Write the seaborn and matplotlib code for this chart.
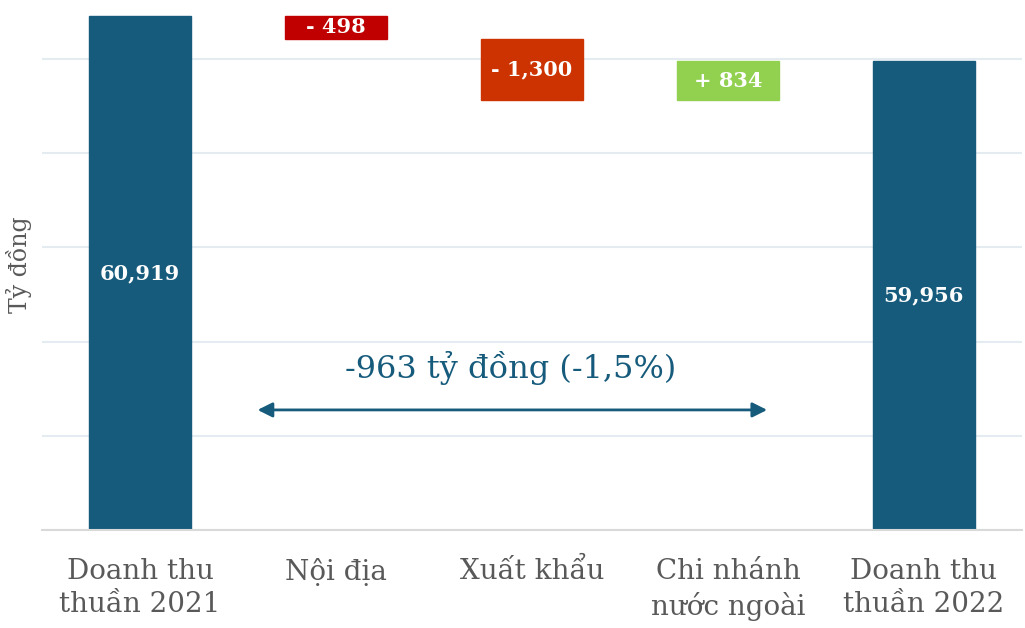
import numpy as np
import pandas as pd
import seaborn as sns
import matplotlib.pyplot as plt

# Waterfall: doanh thu thuần 2021 -> 2022 (tỷ đồng)
categories = ["Doanh thu\nthuần 2021", "Nội địa", "Xuất khẩu", "Chi nhánh\nnước ngoài", "Doanh thu\nthuần 2022"]
values = [60919, -498, -1300, 834, 59956]
kinds = ["total", "delta", "delta", "delta", "total"]
bar_labels = ["60,919", "- 498", "- 1,300", "+ 834", "59,956"]
colors = ["#165b7c", "#c00000", "#cc3300", "#92d050", "#165b7c"]

note_text = "-963 tỷ đồng (-1,5%)"

# %%
# running total -> bottom / height of each bar
bottoms, heights = [], []
running = 0
for v, k in zip(values, kinds):
    if k == "total":
        bottoms.append(0)
        heights.append(v)
        running = v
    else:
        new = running + v
        bottoms.append(min(running, new))
        heights.append(abs(v))
        running = new

df = pd.DataFrame({"category": categories, "height": heights, "bottom": bottoms})

# %%
sns.set_style("white")
plt.rcParams["font.family"] = ["DejaVu Serif", "DejaVu Sans"]

fig = plt.figure(figsize=(10.25, 6.28), dpi=100)
ax = fig.add_axes([0.041, 0.156, 0.956, 0.844])

sns.barplot(data=df, x="category", y="height", order=categories, bottom=df["bottom"].values,
            color=colors[0], width=0.52, saturation=1, errorbar=None, ax=ax, zorder=2)
for patch, c in zip(ax.patches, colors):
    patch.set_facecolor(c)
    patch.set_edgecolor(c)

ax.set_xlim(-0.5, 4.5)
ax.set_ylim(50000, 61253)
ax.set_yticks(np.arange(50000, 60001, 2000))
ax.set_yticklabels([])
ax.tick_params(axis="y", length=0)
ax.tick_params(axis="x", length=0, pad=20, labelsize=20, labelcolor="#595959")
for lbl in ax.get_xticklabels():
    lbl.set_linespacing(1.3)
ax.grid(axis="y", color="#e5ecf1", linewidth=1.5, zorder=0)
ax.set_axisbelow(True)

for side in ["top", "right", "left"]:
    ax.spines[side].set_visible(False)
ax.spines["bottom"].set_color("#d9d9d9")
ax.spines["bottom"].set_linewidth(1.5)

ax.set_xlabel("")
ax.set_ylabel("Tỷ đồng", fontsize=17, color="#595959", labelpad=4)

# labels inside bars
for i, (b, h, t) in enumerate(zip(bottoms, heights, bar_labels)):
    ax.text(i, b + h / 2 if b > 0 else (50000 + h) / 2, t, ha="center", va="center",
            color="white", fontsize=15, fontweight="bold", zorder=3)

# overall change annotation
ax.annotate("", xy=(0.6, 52550), xytext=(3.2, 52550),
            arrowprops=dict(arrowstyle="<|-|>", color="#165b7c", lw=2,
                            mutation_scale=22, shrinkA=0, shrinkB=0))
ax.text(1.89, 53450, note_text, ha="center", va="center", fontsize=23, color="#165b7c")

plt.savefig("out.png", dpi=100)
